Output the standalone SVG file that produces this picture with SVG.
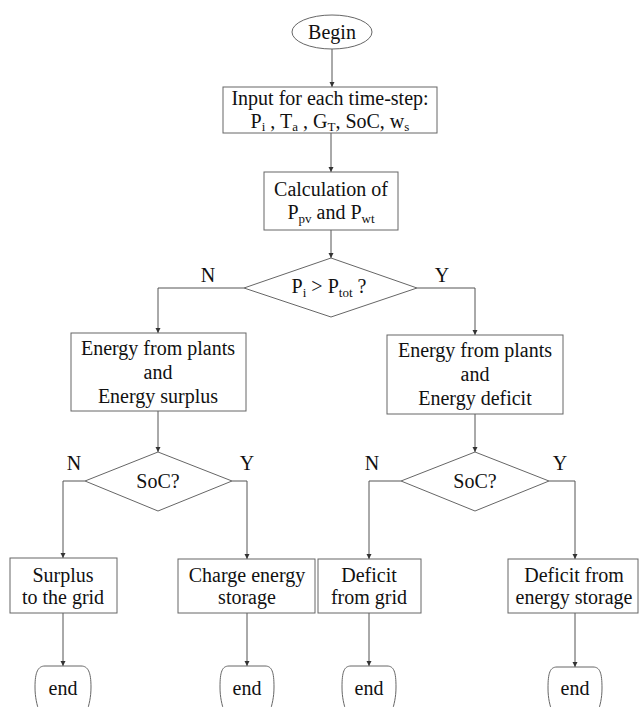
<svg xmlns="http://www.w3.org/2000/svg" width="639" height="707" viewBox="0 0 639 707">
<style>
.box{fill:#fff;stroke:#666;stroke-width:1}
.ln{fill:none;stroke:#555;stroke-width:1}
.t{font-family:"Liberation Serif","Times New Roman",serif;font-size:20px;fill:#111;text-anchor:middle}
.lab{font-family:"Liberation Serif","Times New Roman",serif;font-size:20px;fill:#111;text-anchor:middle}
.sub{font-size:13px}
</style>
<defs>
<marker id="ah" markerUnits="userSpaceOnUse" markerWidth="6" markerHeight="6" refX="5" refY="3" orient="auto">
<path d="M0,0.5 L5,3 L0,5.5 Z" fill="#333"/>
</marker>
</defs>
<rect width="639" height="707" fill="#fff"/>
<g id="connectors">
<path class="ln" d="M332,49 V87" marker-end="url(#ah)"/>
<path class="ln" d="M331,133 V172" marker-end="url(#ah)"/>
<path class="ln" d="M331,230 V258" marker-end="url(#ah)"/>
<path class="ln" d="M244,288 H158 V333" marker-end="url(#ah)"/>
<path class="ln" d="M417,288 H475 V335" marker-end="url(#ah)"/>
<path class="ln" d="M158,411 V452" marker-end="url(#ah)"/>
<path class="ln" d="M475,414 V452" marker-end="url(#ah)"/>
<path class="ln" d="M85,481 H63 V558" marker-end="url(#ah)"/>
<path class="ln" d="M232,481 H247 V559" marker-end="url(#ah)"/>
<path class="ln" d="M401,481 H369 V559" marker-end="url(#ah)"/>
<path class="ln" d="M549,481 H575 V559" marker-end="url(#ah)"/>
<path class="ln" d="M63,613 V666" marker-end="url(#ah)"/>
<path class="ln" d="M247,613 V666" marker-end="url(#ah)"/>
<path class="ln" d="M369,613 V666" marker-end="url(#ah)"/>
<path class="ln" d="M575,613 V667" marker-end="url(#ah)"/>
<text class="lab" x="208" y="282">N</text>
<text class="lab" x="442" y="282">Y</text>
<text class="lab" x="74" y="470">N</text>
<text class="lab" x="247" y="470">Y</text>
<text class="lab" x="372" y="470">N</text>
<text class="lab" x="560" y="470">Y</text>
</g>
<g id="begin">
<ellipse class="box" cx="332" cy="32" rx="40" ry="17"/>
<text class="t" x="332" y="39">Begin</text>
</g>
<g id="input">
<rect class="box" x="223" y="87" width="214" height="46"/>
<text class="t" x="330" y="105">Input for each time-step:</text>
<text class="t" x="330" y="128">P<tspan class="sub" dy="3">i</tspan><tspan dy="-3"> , T</tspan><tspan class="sub" dy="3">a</tspan><tspan dy="-3"> , G</tspan><tspan class="sub" dy="3">T</tspan><tspan dy="-3">, SoC, w</tspan><tspan class="sub" dy="3">s</tspan></text>
</g>
<g id="calc">
<rect class="box" x="264" y="172" width="134" height="58"/>
<text class="t" x="331" y="196">Calculation of</text>
<text class="t" x="331" y="219">P<tspan class="sub" dy="4">pv</tspan><tspan dy="-4"> and P</tspan><tspan class="sub" dy="4">wt</tspan></text>
</g>
<g id="decision1">
<polygon class="box" points="331,258 417,288 331,317 244,288"/>
<text class="t" x="329" y="293">P<tspan class="sub" dy="4">i</tspan><tspan dy="-4"> &gt; P</tspan><tspan class="sub" dy="4">tot</tspan><tspan dy="-4"> ?</tspan></text>
</g>
<g id="surplus">
<rect class="box" x="71" y="333" width="175" height="78"/>
<text class="t" x="158" y="355">Energy from plants</text>
<text class="t" x="158" y="379">and</text>
<text class="t" x="158" y="403">Energy surplus</text>
</g>
<g id="deficit">
<rect class="box" x="387" y="335" width="176" height="79"/>
<text class="t" x="475" y="357">Energy from plants</text>
<text class="t" x="475" y="381">and</text>
<text class="t" x="475" y="405">Energy deficit</text>
</g>
<g id="soc1">
<polygon class="box" points="158,452 232,481 158,511 85,481"/>
<text class="t" x="158" y="488">SoC?</text>
</g>
<g id="soc2">
<polygon class="box" points="475,452 549,481 475,511 401,481"/>
<text class="t" x="475" y="488">SoC?</text>
</g>
<g id="surplus-grid">
<rect class="box" x="10" y="558" width="107" height="55"/>
<text class="t" x="63" y="582">Surplus</text>
<text class="t" x="63" y="604">to the grid</text>
</g>
<g id="charge">
<rect class="box" x="178" y="559" width="137" height="54"/>
<text class="t" x="247" y="582">Charge energy</text>
<text class="t" x="247" y="604">storage</text>
</g>
<g id="deficit-grid">
<rect class="box" x="318" y="559" width="103" height="54"/>
<text class="t" x="369" y="582">Deficit</text>
<text class="t" x="369" y="604">from grid</text>
</g>
<g id="deficit-storage">
<rect class="box" x="508" y="559" width="130" height="54"/>
<text class="t" x="574" y="582">Deficit from</text>
<text class="t" x="574" y="604">energy storage</text>
</g>
<g id="end1">
<path class="box" d="M45,666 H81 C88,666 91,672 91,687 C91,698 89,704 87,712 M45,666 C38,666 35,672 35,687 C35,698 37,704 39,712"/>
<text class="t" x="63" y="695">end</text>
</g>
<g id="end2">
<path class="box" d="M229,666 H265 C272,666 274,672 274,687 C274,698 272,704 270,712 M229,666 C222,666 220,672 220,687 C220,698 222,704 224,712"/>
<text class="t" x="247" y="695">end</text>
</g>
<g id="end3">
<path class="box" d="M351,666 H387 C394,666 396,672 396,687 C396,698 394,704 392,712 M351,666 C344,666 342,672 342,687 C342,698 344,704 346,712"/>
<text class="t" x="369" y="695">end</text>
</g>
<g id="end4">
<path class="box" d="M557,667 H593 C600,667 602,673 602,688 C602,699 600,705 598,712 M557,667 C550,667 548,673 548,688 C548,699 550,705 552,712"/>
<text class="t" x="575" y="695">end</text>
</g>
</svg>
